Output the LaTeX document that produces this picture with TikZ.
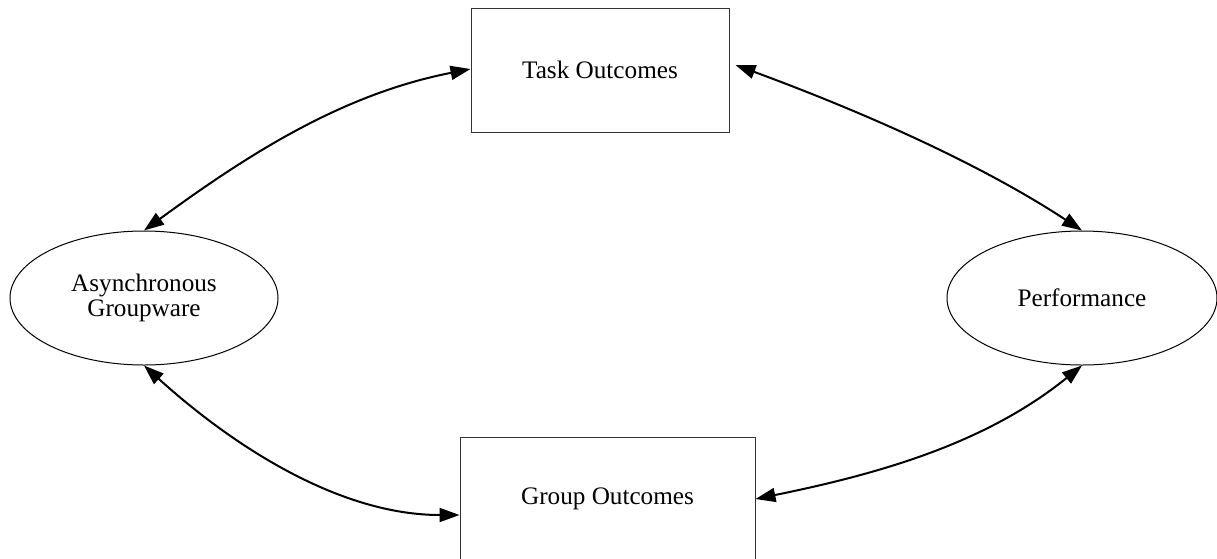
\documentclass[tikz,border=0pt]{standalone}
\usepackage{fontspec}
\setmainfont{Liberation Serif}
\usetikzlibrary{shapes.geometric,arrows.meta}
\tikzset{
  boxnode/.style={draw=black!80, line width=0.5pt, rectangle, align=center, inner sep=0pt},
  ellnode/.style={draw=black, line width=0.5pt, ellipse, align=center, inner sep=0pt},
  link/.style={line width=1pt, {Triangle[length=10pt,width=7pt]}-{Triangle[length=10pt,width=7pt]}},
  lbl/.style={font=\fontsize{12.6}{12.8}\selectfont}
}
\begin{document}
\begin{tikzpicture}[x=0.5pt,y=-0.5pt]
\useasboundingbox (0,0) rectangle (1217,558);
\node[boxnode, lbl, minimum width=129pt, minimum height=62pt] (task) at (600,70) {Task Outcomes};
\node[boxnode, lbl, minimum width=147.5pt, minimum height=62pt] (group) at (607.5,499) {Group Outcomes};
\node[ellnode, lbl, minimum width=134pt, minimum height=67pt] (async) at (144,298) {Asynchronous\\Groupware};
\node[ellnode, lbl, minimum width=135pt, minimum height=67pt] (perf) at (1082,298) {Performance};
\coordinate (tw) at ([yshift=0.5pt]task.west);
\coordinate (te) at ([xshift=3pt,yshift=2.5pt]task.east);
\coordinate (gw) at ([yshift=-8pt]group.west);
\coordinate (ge) at ([xshift=0pt]group.east);
\draw[link] (async.north) .. controls (250,153) and (343,94) .. (tw);
\draw[link] (te) .. controls (855,109) and (976,161) .. (perf.north);
\draw[link] (async.south) .. controls (234,447) and (340,515) .. (gw);
\draw[link] (ge) .. controls (878,474) and (985,444) .. (perf.south);
\end{tikzpicture}
\end{document}
